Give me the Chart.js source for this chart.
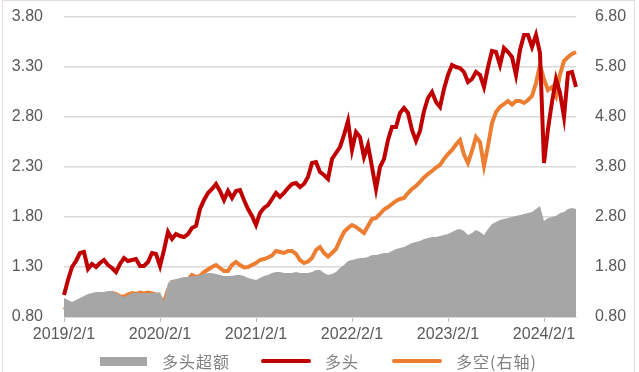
<!DOCTYPE html>
<html>
<head>
<meta charset="utf-8">
<script src="https://cdn.jsdelivr.net/npm/chart.js@4"></script>
<style>
  body { margin: 0; background: #fff; }
  #wrap { position: relative; width: 639px; height: 372px; overflow: hidden; }
  #frame { position: absolute; left: 2px; top: 0; width: 633px; height: 380px; border: 1px solid #e6dede; box-sizing: border-box; pointer-events: none; }
  .legend { position: absolute; top: 352px; height: 18px; font: 16px "Noto Sans CJK SC", sans-serif; color: #7f7f7f; line-height: 18px; letter-spacing: 1px; }
  .swatch { position: absolute; }
</style>
</head>
<body>
<div id="wrap">
  <canvas id="chart" width="639" height="372"></canvas>
  <div id="frame"></div>
  <div class="swatch" style="left:100px;top:357px;width:47px;height:9px;background:#a6a6a6"></div>
  <div class="legend" style="left:162px">多头超额</div>
  <div class="swatch" style="left:261px;top:359px;width:50px;height:4px;border-radius:2px;background:#c00000"></div>
  <div class="legend" style="left:325px">多头</div>
  <div class="swatch" style="left:392px;top:359px;width:50px;height:4px;border-radius:2px;background:#ed7d31"></div>
  <div class="legend" style="left:456px">多空(右轴)</div>
</div>
<script>
// ===== Data (half-month samples, 2019/2/1 - 2024/6/1) =====
const seriesNames = ['多头超额', '多头', '多空(右轴)'];

// 多头超额 (left axis)
const excessValues = [
  0.99, 0.97, 0.95, 0.97, 0.99, 1.01, 1.03, 1.04, 1.05, 1.05, 1.05, 1.06, 1.06, 1.04, 1.02, 1.00,
  1.02, 1.04, 1.04, 1.04, 1.04, 1.04, 1.04, 1.04, 1.05, 0.96, 1.14, 1.17, 1.18, 1.19, 1.20, 1.20,
  1.21, 1.21, 1.22, 1.23, 1.24, 1.24, 1.23, 1.22, 1.21, 1.21, 1.21, 1.22, 1.22, 1.21, 1.19, 1.18,
  1.17, 1.19, 1.21, 1.22, 1.24, 1.25, 1.25, 1.24, 1.24, 1.24, 1.25, 1.24, 1.24, 1.24, 1.25, 1.27,
  1.27, 1.24, 1.22, 1.23, 1.25, 1.29, 1.32, 1.36, 1.37, 1.38, 1.39, 1.39, 1.40, 1.42, 1.42, 1.43,
  1.44, 1.44, 1.46, 1.48, 1.49, 1.50, 1.52, 1.54, 1.55, 1.56, 1.58, 1.59, 1.60, 1.60, 1.61, 1.62,
  1.63, 1.65, 1.67, 1.68, 1.66, 1.62, 1.64, 1.67, 1.65, 1.62, 1.68, 1.73, 1.75, 1.77, 1.78, 1.79,
  1.80, 1.81, 1.82, 1.83, 1.84, 1.85, 1.88, 1.91, 1.76, 1.79, 1.80, 1.81, 1.84, 1.85, 1.88, 1.89,
  1.88
];

// 多头 (left axis)
const longValues = [
  1.02, 1.17, 1.30, 1.36, 1.44, 1.45, 1.28, 1.33, 1.30, 1.34, 1.37, 1.32, 1.29, 1.25, 1.33, 1.39,
  1.36, 1.37, 1.38, 1.31, 1.31, 1.35, 1.44, 1.43, 1.31, 1.47, 1.65, 1.58, 1.63, 1.61, 1.60, 1.63,
  1.69, 1.71, 1.88, 1.97, 2.04, 2.08, 2.13, 2.06, 1.97, 2.06, 1.99, 2.06, 2.07, 1.97, 1.88, 1.81,
  1.72, 1.84, 1.89, 1.92, 1.98, 2.04, 2.00, 2.04, 2.09, 2.13, 2.14, 2.10, 2.13, 2.20, 2.34, 2.35,
  2.25, 2.22, 2.18, 2.38, 2.44, 2.50, 2.62, 2.76, 2.47, 2.65, 2.60, 2.40, 2.52, 2.30, 2.08, 2.30,
  2.38, 2.57, 2.70, 2.70, 2.84, 2.89, 2.84, 2.67, 2.56, 2.66, 2.86, 2.99, 3.05, 2.95, 2.90, 3.08,
  3.22, 3.32, 3.30, 3.29, 3.25, 3.15, 3.18, 3.25, 3.22, 3.10, 3.30, 3.46, 3.45, 3.32, 3.49, 3.45,
  3.40, 3.22, 3.47, 3.62, 3.62, 3.50, 3.62, 3.44, 2.34, 2.68, 2.95, 3.18, 3.04, 2.80, 3.24, 3.25,
  3.10
];

// 多空 (right axis)
const longShortValues = [
  1.00, 0.94, 0.90, 0.94, 0.98, 1.03, 1.08, 1.10, 1.14, 1.16, 1.20, 1.23, 1.28, 1.26, 1.21, 1.21,
  1.25, 1.28, 1.26, 1.29, 1.27, 1.29, 1.27, 1.25, 1.18, 1.10, 1.34, 1.50, 1.49, 1.50, 1.52, 1.55,
  1.64, 1.60, 1.62, 1.70, 1.75, 1.80, 1.84, 1.78, 1.72, 1.72, 1.84, 1.90, 1.84, 1.79, 1.80, 1.84,
  1.88, 1.94, 1.96, 1.99, 2.03, 2.12, 2.10, 2.08, 2.12, 2.12, 2.06, 1.94, 1.88, 1.91, 1.98, 2.14,
  2.20, 2.08, 2.01, 2.08, 2.16, 2.34, 2.50, 2.58, 2.64, 2.60, 2.54, 2.48, 2.62, 2.76, 2.78, 2.86,
  2.95, 3.00, 3.06, 3.12, 3.16, 3.18, 3.28, 3.36, 3.42, 3.50, 3.59, 3.66, 3.72, 3.79, 3.84, 3.96,
  4.06, 4.14, 4.25, 4.34, 4.05, 3.88, 4.12, 4.40, 4.30, 3.82, 4.22, 4.68, 4.90, 5.00, 5.06, 5.12,
  5.05, 5.12, 5.12, 5.08, 5.14, 5.22, 5.48, 5.84, 5.55, 5.34, 5.40, 5.22, 5.65, 5.92, 6.00, 6.06,
  6.10
];

const xTickLabels = ['2019/2/1', '2020/2/1', '2021/2/1', '2022/2/1', '2023/2/1', '2024/2/1'];

// date categories, one per sample
const dates = [];
for (let k = 0; k < longValues.length; k++) {
  const m = 1 + Math.floor(k / 2);          // months since 2019/1
  const y = 2019 + Math.floor(m / 12);
  dates.push(y + '/' + (m % 12 + 1) + '/' + (k % 2 ? 16 : 1));
}

const tickFont = { family: 'Liberation Sans', size: 16 };
const tickColor = '#595959';

// fixed axis sizes so the plot area lands where the reference has it
function fitY(width) {
  return s => {
    s.width = width;
    s.paddingTop = 0;
    s.paddingBottom = 0;
  };
}

new Chart(document.getElementById('chart').getContext('2d'), {
  type: 'line',
  data: {
    labels: dates,
    datasets: [
      {
        label: seriesNames[0],
        data: excessValues,
        yAxisID: 'y',
        borderWidth: 0,
        borderColor: '#a6a6a6',
        backgroundColor: '#a6a6a6',
        fill: 'start',
        pointRadius: 0
      },
      {
        label: seriesNames[1],
        data: longValues,
        yAxisID: 'y',
        borderColor: '#c00000',
        borderWidth: 4,
        fill: false,
        pointRadius: 0
      },
      {
        label: seriesNames[2],
        data: longShortValues,
        yAxisID: 'y1',
        borderColor: '#ed7d31',
        borderWidth: 4,
        fill: false,
        pointRadius: 0
      }
    ]
  },
  options: {
    responsive: false,
    devicePixelRatio: 1,
    animation: false,
    layout: { padding: { top: 17, left: 0, right: 0, bottom: 0 } },
    plugins: { legend: { display: false }, tooltip: { enabled: false } },
    scales: {
      x: {
        type: 'category',
        offset: false,
        afterFit: s => { s.height = 55; s.paddingLeft = 0; s.paddingRight = 0; },
        afterBuildTicks: s => {
          s.ticks = s.ticks.filter(t => xTickLabels.includes(dates[t.value]));
        },
        ticks: {
          autoSkip: false,
          maxRotation: 0,
          padding: 3,
          color: tickColor,
          font: tickFont,
          callback: function (v) { return dates[v]; }
        },
        grid: { drawOnChartArea: false, drawTicks: true, tickLength: 5, color: '#bfbfbf', offset: false },
        border: { display: true, color: '#d9d9d9' }
      },
      y: {
        position: 'left',
        min: 0.8,
        max: 3.8,
        afterFit: fitY(64),
        ticks: {
          stepSize: 0.5,
          padding: 21,
          color: tickColor,
          font: tickFont,
          callback: v => v.toFixed(2)
        },
        grid: { color: '#d9d9d9', lineWidth: 1.5, drawTicks: false },
        border: { display: false }
      },
      y1: {
        position: 'right',
        min: 0.8,
        max: 6.8,
        afterFit: fitY(63),
        ticks: {
          stepSize: 1,
          padding: 19,
          color: tickColor,
          font: tickFont,
          callback: v => v.toFixed(2)
        },
        grid: { display: false, drawTicks: false },
        border: { display: false }
      }
    }
  }
});
</script>
</body>
</html>
